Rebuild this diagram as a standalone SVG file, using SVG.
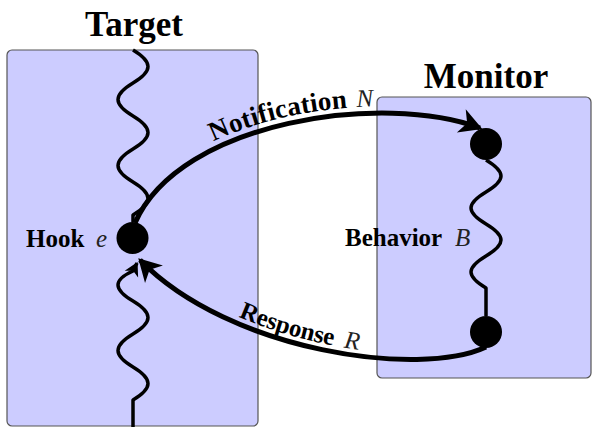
<svg xmlns="http://www.w3.org/2000/svg" xmlns:xlink="http://www.w3.org/1999/xlink" width="592" height="429" viewBox="0 0 592 429">
<style>
.box{fill:#ccccff;stroke:#555;stroke-width:1.2}
.title{font-family:"Liberation Serif",serif;font-weight:bold;font-size:35px;fill:#000}
.lb{font-family:"Liberation Serif",serif;font-weight:bold;font-size:25px;fill:#000}
.mi{font-family:"Liberation Serif",serif;font-style:italic;font-weight:normal;font-size:25px;fill:#222}
.big{font-size:27px}
.wave{fill:none;stroke:#000;stroke-width:3.5;stroke-linejoin:round}
.conn{fill:none;stroke:#000;stroke-width:5}
.node{fill:#000}
</style>
<defs>
<marker id="stealth" markerUnits="userSpaceOnUse" markerWidth="30" markerHeight="30" viewBox="-20 -12 24 24" refX="0" refY="0" orient="auto" overflow="visible">
<path d="M2,0 L-16,-10 L-11,0 L-16,10 Z" fill="#000"/>
</marker>
<marker id="small" markerUnits="userSpaceOnUse" markerWidth="20" markerHeight="20" viewBox="-12 -8 16 16" refX="0" refY="0" orient="auto" overflow="visible">
<path d="M1,0 L-10,-6 L-7,0 L-10,6 Z" fill="#000"/>
</marker>
<path id="pN" d="M135,223 C180,120 385,92 482,129"/>
<path id="pRr" d="M138,258 C230,352 420,378 486,347"/>
</defs>

<g id="target">
<rect class="box" x="7" y="50" width="251" height="376" rx="5"/>
<text class="title" x="134" y="36" text-anchor="middle">Target</text>
<path class="wave" d="M133,50 c20,12 20,21 0,33 c-20,12 -20,21 0,33 c20,12 20,21 0,33 c-20,12 -20,21 0,33 c20,12 20,21 0,33 L133,222"/>
<path class="wave" d="M133,427 L133,400 c20,-12 20,-21 0,-33 c-20,-12 -20,-21 0,-33 c20,-12 20,-21 0,-33 c-20,-12 -20,-21 0,-30 L137,263" marker-end="url(#small)"/>
</g>

<g id="monitor">
<rect class="box" x="377" y="97" width="214" height="281" rx="5"/>
<text class="title" x="486" y="88" text-anchor="middle">Monitor</text>
<path class="wave" d="M486,160 c20,12 20,20 0,32 c-20,12 -20,20 0,32 c20,12 20,20 0,32 c-20,12 -20,20 0,32 L486,316"/>
</g>

<g id="hook">
<circle class="node" cx="132.5" cy="238" r="16"/>
<text class="lb" x="26" y="247">Hook</text>
<text class="mi" x="96" y="247">e</text>
</g>

<g id="behavior">
<circle class="node" cx="486" cy="144" r="16"/>
<circle class="node" cx="486" cy="332" r="16"/>
<text class="lb" x="345" y="246">Behavior</text>
<text class="mi" x="455" y="246">B</text>
</g>

<g id="connectors">
<path class="conn" d="M135,223 C180,120 385,92 480,128" marker-end="url(#stealth)"/>
<path class="conn" d="M486,347 C420,378 230,352 140,260" marker-end="url(#stealth)"/>
<text dy="-7"><textPath xlink:href="#pN" href="#pN" startOffset="113"><tspan class="lb big">Notification</tspan><tspan class="mi" dx="9">N</tspan></textPath></text>
<text dy="-6"><textPath xlink:href="#pRr" href="#pRr" startOffset="118"><tspan class="lb">Response</tspan><tspan class="mi" dx="11">R</tspan></textPath></text>
</g>
</svg>
